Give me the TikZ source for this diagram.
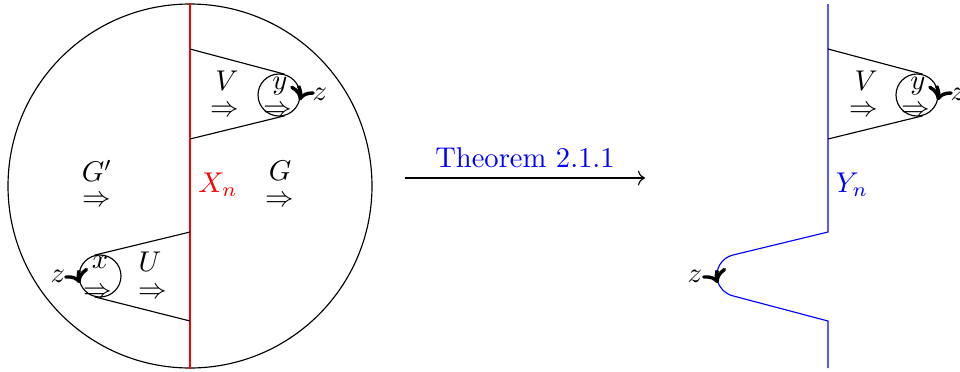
\documentclass[tikz,border=0pt]{standalone}
\usepackage{amsmath, amssymb}
\usepackage{xcolor}
\usetikzlibrary{arrows.meta, positioning, calc}

\begin{document}
\begin{tikzpicture}[
    x=0.35pt, y=0.35pt,
    disc/.style={circle, draw, minimum size=127.4pt, inner sep=0pt},
    spot/.style={circle, draw, minimum size=14.7pt, inner sep=0pt},
    twist/.style={->, very thick},
    arr/.style={->}
  ]
    \useasboundingbox (0,0) rectangle (960,371);

    % left picture
    \node[disc] (world) at (190,185) {};
    \draw[red] (world.north) -- (world.south);
    \node[red] (xn) at (218,186) {$X_n$};
    \node (gp) at (97,200) {$G'$};
    \node (gpa) at (97,170) {$\Rightarrow$};
    \node (g) at (280,200) {$G$};
    \node (ga) at (280,170) {$\Rightarrow$};

    \coordinate (v1) at (190,322);
    \coordinate (v2) at (190,232);
    \node[spot] (ny) at (279,276) {};
    \draw (v1) -- (ny.75);
    \draw (v2) -- (ny.-75);
    \node (v) at (227,290) {$V$};
    \node (va) at (225,260) {$\Rightarrow$};
    \node (y) at (280,285) {$y$};
    \node (ya) at (278,260) {$\Rightarrow$};
    \draw[twist] (ny.25) arc (25:-15:7.35pt);
    \node (zy) at (320,277) {$z$};

    \coordinate (u1) at (190,139);
    \coordinate (u2) at (190,50);
    \node[spot] (nx) at (100,95) {};
    \draw (u1) -- (nx.105);
    \draw (u2) -- (nx.-105);
    \node (u) at (150,109) {$U$};
    \node (ua) at (153,78) {$\Rightarrow$};
    \node (x) at (100,109) {$x$};
    \node (xa) at (98,78) {$\Rightarrow$};
    \draw[twist] (nx.165) arc (165:200:7.35pt);
    \node (zx) at (58,95) {$z$};

    % theorem arrow
    \coordinate (a1) at (405,193);
    \coordinate (a2) at (645,193);
    \draw[arr] (a1) -- node[above, blue] {Theorem 2.1.1} (a2);

    % right picture
    \node[spot, draw=none] (tip) at (738,95) {};
    \draw[blue] (828,367) -- (828,139) -- (tip.104) arc (104:256:7.35pt) -- (828,50) -- (828,3);
    \node[blue] (yn) at (852,186) {$Y_n$};
    \draw[twist] (tip.165) arc (165:200:7.35pt);
    \node (zt) at (695,95) {$z$};

    \coordinate (w1) at (828,322);
    \coordinate (w2) at (828,232);
    \node[spot] (my) at (917,276) {};
    \draw (w1) -- (my.75);
    \draw (w2) -- (my.-75);
    \node (v') at (866,290) {$V$};
    \node (va') at (864,260) {$\Rightarrow$};
    \node (y') at (918,285) {$y$};
    \node (ya') at (916,260) {$\Rightarrow$};
    \draw[twist] (my.25) arc (25:-15:7.35pt);
    \node (zy') at (958,277) {$z$};
\end{tikzpicture}
\end{document}
